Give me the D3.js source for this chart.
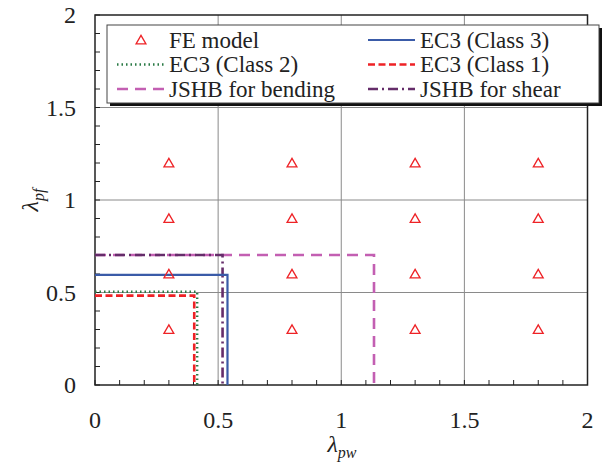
<!DOCTYPE html>
<html>
<head>
<meta charset="utf-8">
<script src="https://cdn.jsdelivr.net/npm/d3@7"></script>
<style>
body { margin: 0; }
svg text { font-family: "Times New Roman", "Liberation Serif", Tinos, FreeSerif !important; }
</style>
</head>
<body>
<script>
const width = 606,
height = 465,
margin = { top: 15, bottom: 80, left: 95, right: 18 };
const fontName = d => '"Times New Roman"';

// FE model grid
const feX = [0.3, 0.8, 1.3, 1.8];
const feY = [0.3, 0.6, 0.9, 1.2];

// limit lines: lambda_pw limit, lambda_pf limit
const seriesNames = ["EC3 (Class 3)", "EC3 (Class 2)", "EC3 (Class 1)", "JSHB for bending", "JSHB for shear"];
const pwLimits = [0.538, 0.415, 0.403, 1.133, 0.518];
const pfLimits = [0.595, 0.504, 0.483, 0.703, 0.703];
const colors = ["#3a5ba8", "#2a7a45", "#ee2226", "#c35fb2", "#652d6a"];
const dashes = [null, "1.5,3", "7,3.5", "11,7", "10,4,2,4"];
const widths = [2.2, 2.4, 2.6, 2.6, 2.6];

const ticks = [0, 0.5, 1, 1.5, 2];
const minorTicks = d3.range(0, 2.001, 0.1);

const svg = d3.select("body")
.append("svg")
.attr("width", width)
.attr("height", height);

const xScale = d3.scaleLinear()
.domain([0, 2])
.range([margin.left, width - margin.right - 0.5]);

const yScale = d3.scaleLinear()
.domain([0, 2])
.range([height - margin.bottom, margin.top]);

// grid
svg.append("g")
.selectAll("line")
.data(ticks.slice(1, -1))
.join("line")
.attr("x1", d => xScale(d)).attr("x2", d => xScale(d))
.attr("y1", yScale(0)).attr("y2", yScale(2))
.attr("stroke", "#8a8a8a").attr("stroke-width", 1);

svg.append("g")
.selectAll("line")
.data(ticks.slice(1, -1))
.join("line")
.attr("x1", xScale(0)).attr("x2", xScale(2))
.attr("y1", d => yScale(d)).attr("y2", d => yScale(d))
.attr("stroke", "#8a8a8a").attr("stroke-width", 1);

// minor inward ticks
svg.append("g")
.selectAll("line")
.data(minorTicks)
.join("line")
.attr("x1", d => xScale(d)).attr("x2", d => xScale(d))
.attr("y1", yScale(0)).attr("y2", yScale(0) - 5)
.attr("stroke", "#222").attr("stroke-width", 1);

svg.append("g")
.selectAll("line")
.data(minorTicks)
.join("line")
.attr("y1", d => yScale(d)).attr("y2", d => yScale(d))
.attr("x1", xScale(0)).attr("x2", xScale(0) + 5)
.attr("stroke", "#222").attr("stroke-width", 1);

// frame
svg.append("rect")
.attr("x", xScale(0)).attr("y", yScale(2))
.attr("width", xScale(2) - xScale(0))
.attr("height", yScale(0) - yScale(2))
.attr("fill", "none")
.attr("stroke", "#222")
.attr("stroke-width", 1.5);

// tick labels
svg.append("g")
.selectAll("text")
.data(ticks)
.join("text")
.attr("x", d => xScale(d))
.attr("y", 428)
.attr("text-anchor", "middle")
.attr("fill", "#222")
.style("font-family", fontName)
.style("font-size", "24px")
.text(d => d);

svg.append("g")
.selectAll("text")
.data(ticks)
.join("text")
.attr("x", 76)
.attr("y", d => yScale(d) + 8)
.attr("text-anchor", "end")
.attr("fill", "#222")
.style("font-family", fontName)
.style("font-size", "24px")
.text(d => d);

// limit lines
const lineGen = d3.line().x(d => xScale(d[0])).y(d => yScale(d[1]));
const order = [3, 4, 0, 1, 2];
svg.append("g")
.selectAll("path")
.data(order)
.join("path")
.attr("d", i => lineGen([[0, pfLimits[i]], [pwLimits[i], pfLimits[i]], [pwLimits[i], 0]]))
.attr("fill", "none")
.attr("stroke", i => colors[i])
.attr("stroke-width", i => widths[i])
.attr("stroke-dasharray", i => dashes[i]);

// FE triangles
const fePoints = feX.flatMap(x => feY.map(y => [x, y]));
const tri = d3.symbol().type(d3.symbolTriangle).size(42);
svg.append("g")
.selectAll("path")
.data(fePoints)
.join("path")
.attr("transform", d => `translate(${xScale(d[0])},${yScale(d[1]) + 1})`)
.attr("d", tri)
.attr("fill", "none")
.attr("stroke", "#ee2226")
.attr("stroke-width", 1.3);

// legend
const lg = svg.append("g");
lg.append("rect")
.attr("x", 110).attr("y", 28).attr("width", 492).attr("height", 78)
.attr("fill", "#111");
lg.append("rect")
.attr("x", 107).attr("y", 25).attr("width", 492).attr("height", 78)
.attr("fill", "#fff").attr("stroke", "#444").attr("stroke-width", 1);

const legendItems = [
  { name: "FE model", col: 0, row: 0, tri: true },
  { name: seriesNames[0], col: 1, row: 0, i: 0 },
  { name: seriesNames[1], col: 0, row: 1, i: 1 },
  { name: seriesNames[2], col: 1, row: 1, i: 2 },
  { name: seriesNames[3], col: 0, row: 2, i: 3 },
  { name: seriesNames[4], col: 1, row: 2, i: 4 }
];
const colX = [117, 368];
const rowY = [40, 64.5, 89];

legendItems.forEach(d => {
  const x0 = colX[d.col], y0 = rowY[d.row];
  if (d.tri) {
    lg.append("path")
      .attr("transform", `translate(${x0 + 24},${y0 + 1})`)
      .attr("d", tri)
      .attr("fill", "none")
      .attr("stroke", "#ee2226")
      .attr("stroke-width", 1.3);
  } else {
    lg.append("line")
      .attr("x1", x0).attr("x2", x0 + 47)
      .attr("y1", y0).attr("y2", y0)
      .attr("stroke", colors[d.i])
      .attr("stroke-width", widths[d.i])
      .attr("stroke-dasharray", dashes[d.i]);
  }
  lg.append("text")
    .attr("x", x0 + 52)
    .attr("y", y0 + 7.5)
    .attr("fill", "#222")
    .style("font-family", fontName)
    .style("font-size", "23px")
    .text(d.name);
});

// axis labels
const xl = svg.append("text")
.attr("x", 342).attr("y", 452)
.attr("text-anchor", "middle")
.attr("fill", "#222")
.style("font-family", fontName)
.style("font-style", "italic")
.style("font-size", "24px");
xl.append("tspan").text("λ");
xl.append("tspan").style("font-size", "16px").attr("dy", 6).text("pw");

const yl = svg.append("text")
.attr("transform", "translate(38,200) rotate(-90)")
.attr("text-anchor", "middle")
.attr("fill", "#222")
.style("font-family", fontName)
.style("font-style", "italic")
.style("font-size", "24px");
yl.append("tspan").text("λ");
yl.append("tspan").style("font-size", "16px").attr("dy", 6).text("pf");
</script>
</body>
</html>
